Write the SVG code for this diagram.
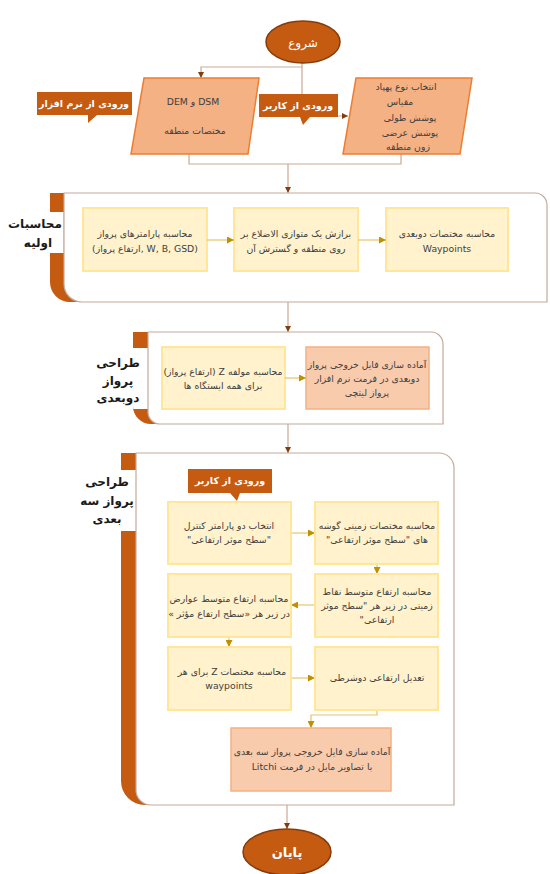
<svg xmlns="http://www.w3.org/2000/svg" width="550" height="874" viewBox="0 0 550 874">
<defs>
<marker id="ab" viewBox="0 0 10 10" refX="10" refY="5" markerWidth="6" markerHeight="6" markerUnits="userSpaceOnUse" orient="auto"><path d="M0,0 L10,5 L0,10 Z" fill="#843C0C"/></marker>
<marker id="ay" viewBox="0 0 10 10" refX="10" refY="5" markerWidth="7" markerHeight="7" markerUnits="userSpaceOnUse" orient="auto"><path d="M0,0 L10,5 L0,10 Z" fill="#BF9000"/></marker>
</defs>
<style>
text{font-family:"DejaVu Sans",sans-serif;fill:#404040;font-size:9.3px;text-anchor:middle}
.w{fill:#fff;font-weight:bold;font-size:9.5px}
.lab{fill:#1a1a1a;font-weight:bold;font-size:12px}
.y{fill:#FFF2CC;stroke:#FFE699;stroke-width:2}
.p{fill:#F8CBAD;stroke:#F4B183;stroke-width:1.5}
.par{fill:#F4B183;stroke:#ED7D31;stroke-width:1.5}
.call{fill:#C55A11}
.or{fill:#C55A11}
.cont{fill:#fff;stroke:#C4AA9C;stroke-width:1.2}
.lb{fill:none;stroke:#C9A993;stroke-width:1.2}
.ly{fill:none;stroke:#E6C46A;stroke-width:1.2}
</style>
<rect width="550" height="874" fill="#fff"/>

<g id="connectors">
<path class="lb" d="M302,63 V116 H348" marker-end="url(#ab)"/>
<path class="lb" d="M302,67 H201 V78" marker-end="url(#ab)"/>
<path class="lb" d="M189,154 V164 H401 V154"/>
<path class="lb" d="M288,164 V193" marker-end="url(#ab)"/>
<path class="lb" d="M288,302 V332" marker-end="url(#ab)"/>
<path class="lb" d="M288,424 V453" marker-end="url(#ab)"/>
<path class="lb" d="M287,805 V829" marker-end="url(#ab)"/>
</g>

<g id="start">
<ellipse cx="303" cy="42" rx="37" ry="21" fill="#C55A11" stroke="#843C0C" stroke-width="1.5"/>
<text x="303" y="47" class="w" style="font-size:12px;font-weight:normal" direction="rtl">شروع</text>
</g>

<g id="input-dem">
<polygon class="par" points="144,78 259,78 248,154 131,154"/>
<text x="193" y="105" direction="ltr">DEM و DSM</text>
<text x="195" y="134" direction="rtl">مختصات منطقه</text>
</g>

<g id="input-user">
<polygon class="par" points="356,78 472,78 460,154 343,154"/>
<text x="406" y="90" direction="rtl">انتخاب نوع پهپاد</text>
<text x="400" y="105" direction="rtl">مقیاس</text>
<text x="410" y="121" direction="rtl">پوشش طولی</text>
<text x="410" y="136" direction="rtl">پوشش عرضی</text>
<text x="408" y="150" direction="rtl">زون منطقه</text>
</g>

<g id="callout-software">
<path class="call" d="M37,92 H132 V115 H97 L88,123 L88,115 H37 Z"/>
<text x="84" y="107" class="w" direction="rtl">ورودی از نرم افزار</text>
</g>

<g id="callout-user">
<path class="call" d="M259,94 H338 V117 H310 L303,125 L300,117 H259 Z"/>
<text x="298" y="109" class="w" direction="rtl">ورودی از کاربر</text>
</g>

<g id="section1">
<path class="or" d="M50,193 H64 V284 A18,18 0 0 0 82,302 H70 A20,20 0 0 1 50,282 Z"/>
<path class="cont" d="M64,193 H535 A12,12 0 0 1 547,205 V302 H82 A18,18 0 0 1 64,284 Z"/>
<rect x="46" y="212" width="17.4" height="41" fill="#fff"/>
<text x="35" y="228" class="lab" direction="rtl">محاسبات</text>
<text x="38" y="247" class="lab" direction="rtl">اولیه</text>
</g>

<g id="s1-params">
<rect class="y" x="83" y="208" width="124" height="63"/>
<text x="145" y="237" direction="rtl">محاسبه پارامترهای پرواز</text>
<text x="145" y="252" direction="ltr">(ارتفاع پرواز, W, B, GSD)</text>
</g>
<g id="s1-fit">
<rect class="y" x="234" y="208" width="124" height="63"/>
<text x="296" y="237" direction="rtl">برازش یک متوازی الاضلاع بر</text>
<text x="296" y="252" direction="rtl">روی منطقه و گسترش آن</text>
</g>
<g id="s1-waypoints">
<rect class="y" x="386" y="208" width="122" height="63"/>
<text x="447" y="237" direction="rtl">محاسبه مختصات دوبعدی</text>
<text x="447" y="252" direction="ltr">Waypoints</text>
</g>

<g id="section2">
<path class="or" d="M133,332 H148 V348 H133 Z"/>
<path class="or" d="M133,409 H148 V412 A12,12 0 0 0 160,424 H151 A18,18 0 0 1 133,406 Z"/>
<path class="cont" d="M148,332 H431 A12,12 0 0 1 443,344 V424 H160 A12,12 0 0 1 148,412 Z"/>
<text x="118" y="367" class="lab" direction="rtl">طراحی</text>
<text x="118" y="385" class="lab" direction="rtl">پرواز</text>
<text x="118" y="402" class="lab" direction="rtl">دوبعدی</text>
</g>
<g id="s2-z">
<rect class="y" x="162" y="347" width="123" height="62"/>
<text x="223" y="375" direction="rtl">محاسبه مولفه Z (ارتفاع پرواز)</text>
<text x="223" y="389" direction="rtl">برای همه ایستگاه ها</text>
</g>
<g id="s2-output">
<rect class="p" x="306" y="347" width="123" height="62"/>
<text x="367" y="368" direction="rtl">آماده سازی فایل خروجی پرواز</text>
<text x="367" y="382" direction="rtl">دوبعدی در فرمت نرم افزار</text>
<text x="367" y="396" direction="rtl">پرواز لیتچی</text>
</g>

<g id="section3">
<path class="or" d="M121,453 H136 V470 H121 Z"/>
<path class="or" d="M121,531 H136 V790 A15,15 0 0 0 151,805 H145 A24,24 0 0 1 121,781 Z"/>
<path class="cont" d="M136,453 H439 A15,15 0 0 1 454,468 V805 H151 A15,15 0 0 1 136,790 Z"/>
<text x="107" y="486" class="lab" direction="rtl">طراحی</text>
<text x="107" y="505" class="lab" direction="rtl">پرواز سه</text>
<text x="107" y="523" class="lab" direction="rtl">بعدی</text>
</g>

<g id="s3-connectors">
<path class="ly" d="M291,533 H315" marker-end="url(#ay)"/>
<path class="ly" d="M377,564 V574" marker-end="url(#ay)"/>
<path class="ly" d="M315,605 H291" marker-end="url(#ay)"/>
<path class="ly" d="M229,637 V647" marker-end="url(#ay)"/>
<path class="ly" d="M291,678 H315" marker-end="url(#ay)"/>
<path class="ly" d="M377,710 V715 H311 V728" marker-end="url(#ay)"/>
<path class="ly" d="M207,240 H234" marker-end="url(#ay)"/>
<path class="ly" d="M358,240 H386" marker-end="url(#ay)"/>
<path class="ly" d="M285,378 H306" marker-end="url(#ay)"/>
</g>

<g id="s3-callout">
<path class="call" d="M188,469 H272 V493 H240 L237,501 L230,493 H188 Z"/>
<text x="230" y="484" class="w" direction="rtl">ورودی از کاربر</text>
</g>
<g id="s3-select">
<rect class="y" x="168" y="502" width="123" height="62"/>
<text x="229" y="529" direction="rtl">انتخاب دو پارامتر کنترل</text>
<text x="229" y="543" direction="rtl">"سطح موثر ارتفاعی"</text>
</g>
<g id="s3-corners">
<rect class="y" x="315" y="502" width="123" height="62"/>
<text x="377" y="529" direction="rtl">محاسبه مختصات زمینی گوشه</text>
<text x="377" y="543" direction="rtl">های "سطح موثر ارتفاعی"</text>
</g>
<g id="s3-ground">
<rect class="y" x="315" y="574" width="123" height="63"/>
<text x="377" y="595" direction="rtl">محاسبه ارتفاع متوسط نقاط</text>
<text x="377" y="609" direction="rtl">زمینی در زیر هر "سطح موثر</text>
<text x="377" y="623" direction="rtl">ارتفاعی"</text>
</g>
<g id="s3-features">
<rect class="y" x="168" y="574" width="123" height="63"/>
<text x="229" y="602" direction="rtl">محاسبه ارتفاع متوسط عوارض</text>
<text x="229" y="617" direction="rtl">در زیر هر «سطح ارتفاع مؤثر »</text>
</g>
<g id="s3-zcoords">
<rect class="y" x="168" y="647" width="123" height="63"/>
<text x="232" y="675" direction="rtl">محاسبه مختصات Z برای هر</text>
<text x="229" y="689" direction="ltr">waypoints</text>
</g>
<g id="s3-adjust">
<rect class="y" x="315" y="647" width="123" height="63"/>
<text x="377" y="681" direction="rtl">تعدیل ارتفاعی دوشرطی</text>
</g>
<g id="s3-output">
<rect class="p" x="231" y="728" width="160" height="63"/>
<text x="312" y="755" direction="rtl">آماده سازی فایل خروجی پرواز سه بعدی</text>
<text x="312" y="770" direction="rtl">با تصاویر مایل در فرمت Litchi</text>
</g>

<g id="end">
<ellipse cx="287" cy="852" rx="44" ry="23" fill="#C55A11" stroke="#843C0C" stroke-width="1.5"/>
<text x="287" y="857" class="w" style="font-size:13px" direction="rtl">پایان</text>
</g>
</svg>
